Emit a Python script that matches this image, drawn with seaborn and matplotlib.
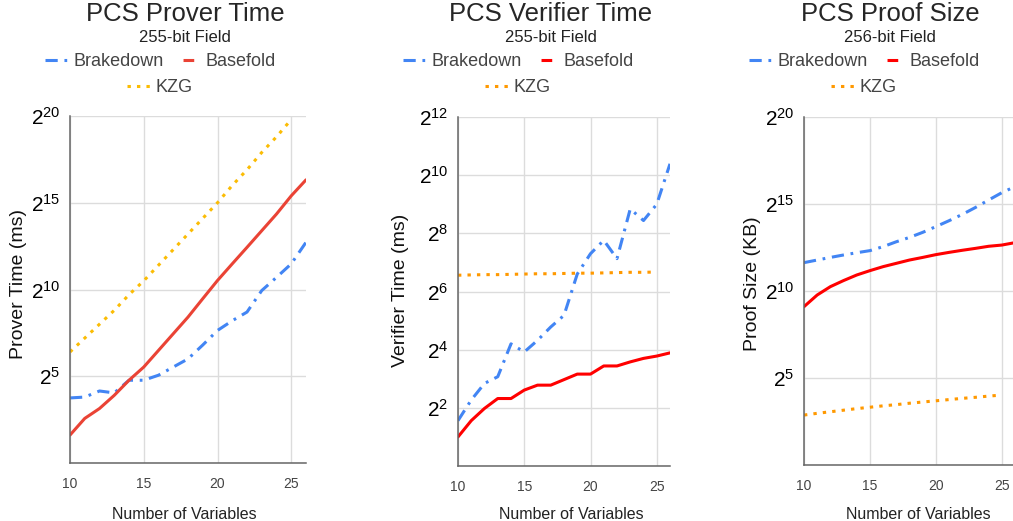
import numpy as np
import pandas as pd
import matplotlib.pyplot as plt
from matplotlib.lines import Line2D
from matplotlib.ticker import FuncFormatter
import seaborn as sns

sns.set_style('white')
plt.rcParams['font.family'] = ['Liberation Sans', 'DejaVu Sans']
plt.rcParams['mathtext.default'] = 'regular'

# number of variables (x axis)
num_vars = list(range(10, 27))
num_vars_kzg = list(range(10, 26))

# all values are log2 of the measured quantity
prover_brakedown = [3.75, 3.8, 4.15, 4.04, 4.77, 4.77, 5.06, 5.53, 6.0, 6.8, 7.64,
                    8.2, 8.7, 9.94, 10.7, 11.48, 12.72]
prover_basefold = [1.61, 2.57, 3.14, 3.9, 4.77, 5.53, 6.49, 7.45, 8.41, 9.47, 10.52,
                   11.48, 12.43, 13.39, 14.35, 15.4, 16.32]
prover_kzg = [6.4, 7.2, 8.0, 8.8, 9.7, 10.5, 11.4, 12.3, 13.2, 14.1, 15.0,
              16.0, 16.9, 17.9, 18.8, 19.8]

verifier_brakedown = [1.56, 2.27, 2.84, 3.07, 4.2, 3.92, 4.32, 4.78, 5.18, 6.6, 7.3,
                      7.76, 7.13, 8.84, 8.44, 9.0, 10.39]
verifier_basefold = [1.0, 1.56, 1.98, 2.32, 2.32, 2.61, 2.78, 2.78, 2.97, 3.16, 3.16,
                     3.44, 3.44, 3.58, 3.7, 3.78, 3.89]
verifier_kzg = [6.56, 6.57, 6.58, 6.58, 6.59, 6.6, 6.61, 6.61, 6.62, 6.63, 6.63,
                6.64, 6.65, 6.66, 6.66, 6.67]

proof_brakedown = [11.63, 11.78, 11.93, 12.07, 12.2, 12.32, 12.55, 12.83, 13.08, 13.37,
                   13.7, 14.04, 14.4, 14.8, 15.23, 15.65, 16.0]
proof_basefold = [9.1, 9.77, 10.25, 10.6, 10.92, 11.17, 11.4, 11.59, 11.78, 11.93,
                  12.09, 12.22, 12.34, 12.45, 12.57, 12.64, 12.78]
proof_kzg = [2.87, 2.97, 3.06, 3.15, 3.24, 3.32, 3.4, 3.47, 3.55, 3.62, 3.69,
             3.76, 3.83, 3.89, 3.96, 4.02]

W, H = 1013, 521
fig = plt.figure(figsize=(W / 100, H / 100), dpi=100)

BLUE = '#4285F4'
DASHDOT = (0, (4, 2.2, 0.9, 2.2))
DOTTED = (0, (1.1, 2.0))

panels = [
    dict(box=(70, 306, 116, 463), title='PCS Prover Time', sub='255-bit Field',
         ylabel='Prover Time (ms)', ymax=20, ystep=5,
         data=(prover_brakedown, prover_basefold, prover_kzg),
         red='#EA4335', yellow='#FBBC04',
         tcx=185, lcx=160, ylx=19, yly=284, xlx=184),
    dict(box=(458, 670, 117, 466), title='PCS Verifier Time', sub='255-bit Field',
         ylabel='Verifier Time (ms)', ymax=12, ystep=2,
         data=(verifier_brakedown, verifier_basefold, verifier_kzg),
         red='#FF0000', yellow='#FF9900',
         tcx=551, lcx=518, ylx=400, yly=290, xlx=571),
    dict(box=(804, 1015, 117, 465), title='PCS Proof Size', sub='256-bit Field',
         ylabel='Proof Size (KB)', ymax=20, ystep=5,
         data=(proof_brakedown, proof_basefold, proof_kzg),
         red='#FF0000', yellow='#FF9900',
         tcx=890, lcx=864, ylx=752, yly=284, xlx=918),
]

for p in panels:
    l, r, t, b = p['box']
    ax = fig.add_axes([l / W, 1 - b / H, (r - l) / W, (b - t) / H])
    brake, base, kzg = p['data']

    df = pd.DataFrame({'n': num_vars, 'brake': brake, 'base': base})
    dk = pd.DataFrame({'n': num_vars_kzg, 'kzg': kzg})
    sns.lineplot(data=dk, x='n', y='kzg', ax=ax, color=p['yellow'], lw=2.2,
                 linestyle=DOTTED, legend=False)
    sns.lineplot(data=df, x='n', y='brake', ax=ax, color=BLUE, lw=2.2,
                 linestyle=DASHDOT, legend=False)
    sns.lineplot(data=df, x='n', y='base', ax=ax, color=p['red'], lw=2.2,
                 legend=False)

    ax.set_xlim(10, 26)
    ax.set_ylim(0, p['ymax'])
    ax.set_xticks([10, 15, 20, 25])
    ax.set_yticks(np.arange(0, p['ymax'] + 1, p['ystep']))
    ax.yaxis.set_major_formatter(FuncFormatter(
        lambda v, pos: '' if v == 0 else rf'$2^{{{int(v)}}}$'))
    ax.tick_params(axis='x', length=0, labelsize=10, labelcolor='#444444', pad=10)
    ax.tick_params(axis='y', length=0, labelsize=15, labelcolor='#000000', pad=7)
    ax.grid(True, color='#dcdcdc', lw=1)
    ax.set_axisbelow(True)
    for s in ['top', 'right']:
        ax.spines[s].set_visible(False)
    for s in ['left', 'bottom']:
        ax.spines[s].set_color('#666666')
        ax.spines[s].set_linewidth(1.1)

    ax.set_xlabel('Number of Variables', fontsize=11.5, color='#222222')
    ax.xaxis.set_label_coords(p['xlx'] / W, 1 - 507 / H, transform=fig.transFigure)
    ax.set_ylabel(p['ylabel'], fontsize=14, color='#111111')
    ax.yaxis.set_label_coords(p['ylx'] / W, 1 - p['yly'] / H, transform=fig.transFigure)
    ax.yaxis.label.set_va('center')

    fig.text(p['tcx'] / W, 1 - 14 / H, p['title'], ha='center', va='center', fontsize=18.5)
    fig.text(p['tcx'] / W, 1 - 37 / H, p['sub'], ha='center', va='center', fontsize=12,
             color='#222222')

    h_brake = Line2D([], [], color=BLUE, lw=2.2, linestyle=DASHDOT)
    h_base = Line2D([], [], color=p['red'], lw=2.2, linestyle=(11.2, (3.5, 10)))
    h_kzg = Line2D([], [], color=p['yellow'], lw=2.2, linestyle=(3.1, (1.1, 2.0)))
    leg_kw = dict(frameon=False, fontsize=13, labelcolor='#444444', handlelength=1.25,
                  handletextpad=0.35, columnspacing=0.7, borderpad=0, borderaxespad=0,
                  loc='center', bbox_transform=fig.transFigure)
    leg1 = ax.legend([h_brake, h_base], ['Brakedown', 'Basefold'], ncol=2,
                     bbox_to_anchor=(p['lcx'] / W, 1 - 62 / H), **leg_kw)
    ax.add_artist(leg1)
    ax.legend([h_kzg], ['KZG'], bbox_to_anchor=(p['lcx'] / W, 1 - 88 / H), **leg_kw)

fig.savefig('out.png', dpi=100)
